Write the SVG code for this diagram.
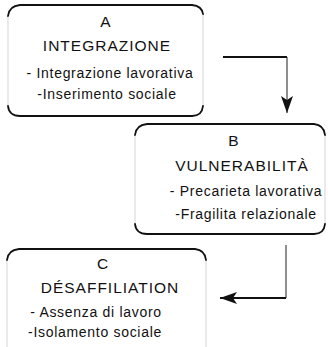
<svg xmlns="http://www.w3.org/2000/svg" width="328" height="347" viewBox="0 0 328 347">
<style>
.edge{fill:none;stroke:#111;stroke-width:1.8;stroke-linecap:round}
.side{fill:none;stroke:#d4d4d4;stroke-width:1}
.t{font-family:"Liberation Sans",Arial,sans-serif;fill:#111;text-anchor:middle}
.h{font-size:15.5px;letter-spacing:1px}
.b{font-size:14px;letter-spacing:0.7px}
.thick{fill:none;stroke:#111;stroke-width:2}
.thin{fill:none;stroke:#333;stroke-width:1.1}
</style>
<defs>
<marker id="ah" markerUnits="userSpaceOnUse" markerWidth="18" markerHeight="12" refX="17" refY="6" orient="auto">
<path d="M0,0 L17,6 L0,12 L4,6 Z" fill="#111"/>
</marker>
</defs>
<rect width="328" height="347" fill="#fff"/>
<g id="nodeA">
<path class="side" d="M8 16 V106 M203 14 V106"/>
<path class="edge" d="M8 16 Q9 6 20 5 L192 5 Q202 6 203 14"/>
<path class="edge" d="M8 106 Q9 116 20 116 L192 116 Q202 116 203 106"/>
<text class="t h" x="106" y="27">A</text>
<text class="t h" x="107" y="51">INTEGRAZIONE</text>
<text class="t b" x="110" y="78">- Integrazione lavorativa</text>
<text class="t b" x="107" y="99">-Inserimento sociale</text>
</g>
<g id="nodeB">
<path class="side" d="M135 135 V224 M325 135 V224"/>
<path class="edge" d="M135 135 Q136 125 147 124 L314 124 Q324 125 325 135"/>
<path class="edge" d="M135 224 Q136 234 147 234 L314 234 Q324 234 325 224"/>
<text class="t h" x="234" y="146">B</text>
<text class="t h" x="242" y="171">VULNERABILITÀ</text>
<text class="t b" x="246" y="196">- Precarieta lavorativa</text>
<text class="t b" x="246" y="219">-Fragilita relazionale</text>
</g>
<g id="nodeC">
<path class="side" d="M7 260 V347 M206 260 V347"/>
<path class="edge" d="M7 260 Q8 250 19 249 L195 249 Q205 250 206 260"/>
<text class="t h" x="103" y="269">C</text>
<text class="t h" x="110" y="293">DÉSAFFILIATION</text>
<text class="t b" x="96" y="317">- Assenza di lavoro</text>
<text class="t b" x="95" y="337">-Isolamento sociale</text>
</g>
<g id="connectors">
<path class="thick" d="M223 57 H287"/>
<path class="thin" d="M287 57 V113" marker-end="url(#ah)"/>
<path class="thin" d="M286 245 V298"/>
<path class="thick" d="M286 298 H220" marker-end="url(#ah)"/>
</g>
</svg>
